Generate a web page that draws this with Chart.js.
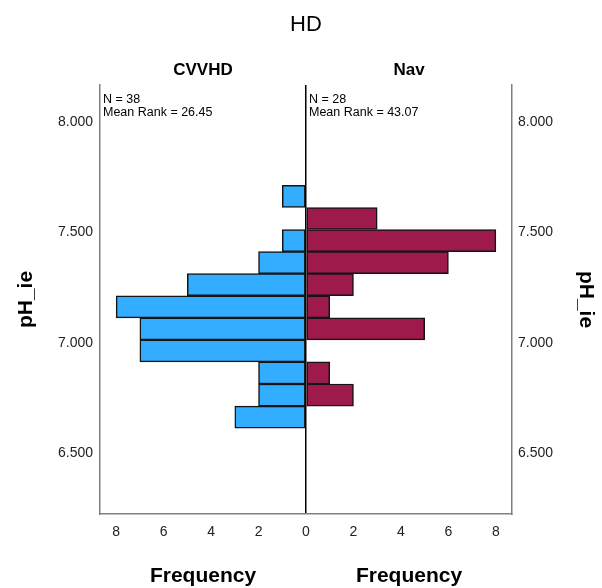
<!DOCTYPE html>
<html>
<head>
<meta charset="utf-8">
<script src="https://cdn.jsdelivr.net/npm/chart.js@4.4.0/dist/chart.umd.min.js"></script>
<style>
    html, body { margin: 0; padding: 0; background: #fff; }
    #wrap { width: 602px; height: 588px; }
</style>
</head>
<body>
<div id="wrap"><canvas id="pyramid" width="602" height="588"></canvas></div>
<script>
// bins of pH_ie (width 0.1), top to bottom
var binCenters = [7.663, 7.563, 7.463, 7.363, 7.263, 7.163, 7.063, 6.963, 6.863, 6.763, 6.663];
var cvvhdCounts = [1, 0, 1, 2, 5, 8, 7, 7, 2, 2, 3];
var navCounts = [0, 3, 8, 6, 2, 1, 5, 0, 1, 2, 0];
var yTicks = [6.5, 7.0, 7.5, 8.0];
var xTicks = [-8, -6, -4, -2, 0, 2, 4, 6, 8];
var groupNames = ['CVVHD', 'Nav'];
var groupStats = [['N = 38', 'Mean Rank = 26.45'], ['N = 28', 'Mean Rank = 43.07']];

var FONT = '"Liberation Sans", Arial, sans-serif';

function toPoints(counts, sign) {
    var pts = [];
    for (var i = 0; i < counts.length; i++) {
        pts.push({ x: counts[i] === 0 ? null : sign * counts[i], y: binCenters[i] });
    }
    return pts;
}

var textPlugin = {
    id: 'pyramidText',
    afterDraw: function (chart) {
        var ctx = chart.ctx;
        var area = chart.chartArea;
        var xs = chart.scales.x;
        var mid = xs.getPixelForValue(0);
        var centers = [(area.left + mid) / 2, (mid + area.right) / 2];
        var lefts = [area.left + 3, mid + 3];
        var midY = (area.top + area.bottom) / 2;

        ctx.save();
        ctx.fillStyle = '#000';
        ctx.textBaseline = 'middle';
        ctx.textAlign = 'center';

        ctx.font = '22px ' + FONT;
        ctx.fillText('HD', mid, 25);

        for (var i = 0; i < 2; i++) {
            ctx.font = 'bold 17px ' + FONT;
            ctx.fillText(groupNames[i], centers[i], 70);
            ctx.font = 'bold 21px ' + FONT;
            ctx.fillText('Frequency', centers[i], 576);
        }

        ctx.textAlign = 'left';
        ctx.font = '12.5px ' + FONT;
        for (var j = 0; j < 2; j++) {
            ctx.fillText(groupStats[j][0], lefts[j], 100);
            ctx.fillText(groupStats[j][1], lefts[j], 113);
        }

        ctx.textAlign = 'center';
        ctx.font = 'bold 21px ' + FONT;
        ctx.save();
        ctx.translate(26, midY);
        ctx.rotate(-Math.PI / 2);
        ctx.fillText('pH_ie', 0, 0);
        ctx.restore();
        ctx.save();
        ctx.translate(586, midY);
        ctx.rotate(Math.PI / 2);
        ctx.fillText('pH_ie', 0, 0);
        ctx.restore();

        ctx.restore();
    }
};

var yScaleBase = {
    type: 'linear',
    min: 6.224,
    max: 8.168,
    offset: false,
    grid: { display: false, drawTicks: false, offset: false },
    border: { display: true, color: '#808080', width: 1.5 },
    afterBuildTicks: function (scale) {
        scale.ticks = yTicks.map(function (v) { return { value: v }; });
    },
    ticks: {
        color: '#222',
        font: { family: FONT, size: 14 },
        callback: function (v) { return Number(v).toFixed(3); }
    }
};

var yLeft = Object.assign({}, yScaleBase, {
    position: 'left',
    ticks: Object.assign({}, yScaleBase.ticks, { padding: 7 }),
    afterFit: function (scale) { scale.width = 100; }
});
var yRight = Object.assign({}, yScaleBase, {
    position: 'right',
    ticks: Object.assign({}, yScaleBase.ticks, { padding: 6 }),
    afterFit: function (scale) { scale.width = 90; }
});

var pyramidChart = new Chart(document.getElementById('pyramid').getContext('2d'), {
    type: 'bar',
    data: {
        datasets: [{
            label: groupNames[0],
            data: toPoints(cvvhdCounts, -1),
            backgroundColor: '#33adff',
            borderColor: '#141414',
            borderWidth: 1.5,
            borderSkipped: false,
            grouped: false,
            barPercentage: 1,
            categoryPercentage: 1,
            yAxisID: 'y'
        }, {
            label: groupNames[1],
            data: toPoints(navCounts, 1),
            backgroundColor: '#9e1a4b',
            borderColor: '#141414',
            borderWidth: 1.5,
            borderSkipped: false,
            grouped: false,
            barPercentage: 1,
            categoryPercentage: 1,
            yAxisID: 'y'
        }]
    },
    options: {
        indexAxis: 'y',
        responsive: false,
        animation: false,
        layout: { padding: { top: 85, left: 0, right: 0, bottom: 0 } },
        plugins: {
            legend: { display: false },
            tooltip: { enabled: false }
        },
        scales: {
            x: {
                type: 'linear',
                min: -8.68,
                max: 8.68,
                afterBuildTicks: function (scale) {
                    scale.ticks = xTicks.map(function (v) { return { value: v }; });
                },
                afterFit: function (scale) { scale.height = 74; },
                grid: {
                    drawTicks: false,
                    lineWidth: 1.5,
                    color: function (c) { return c.tick && c.tick.value === 0 ? '#000' : 'rgba(0,0,0,0)'; }
                },
                border: { display: true, color: '#808080', width: 1.5 },
                ticks: {
                    color: '#222',
                    padding: 10,
                    font: { family: FONT, size: 14 },
                    callback: function (v) { return Math.abs(v); }
                }
            },
            y: yLeft,
            y2: yRight
        }
    },
    plugins: [textPlugin]
});
</script>
</body>
</html>
